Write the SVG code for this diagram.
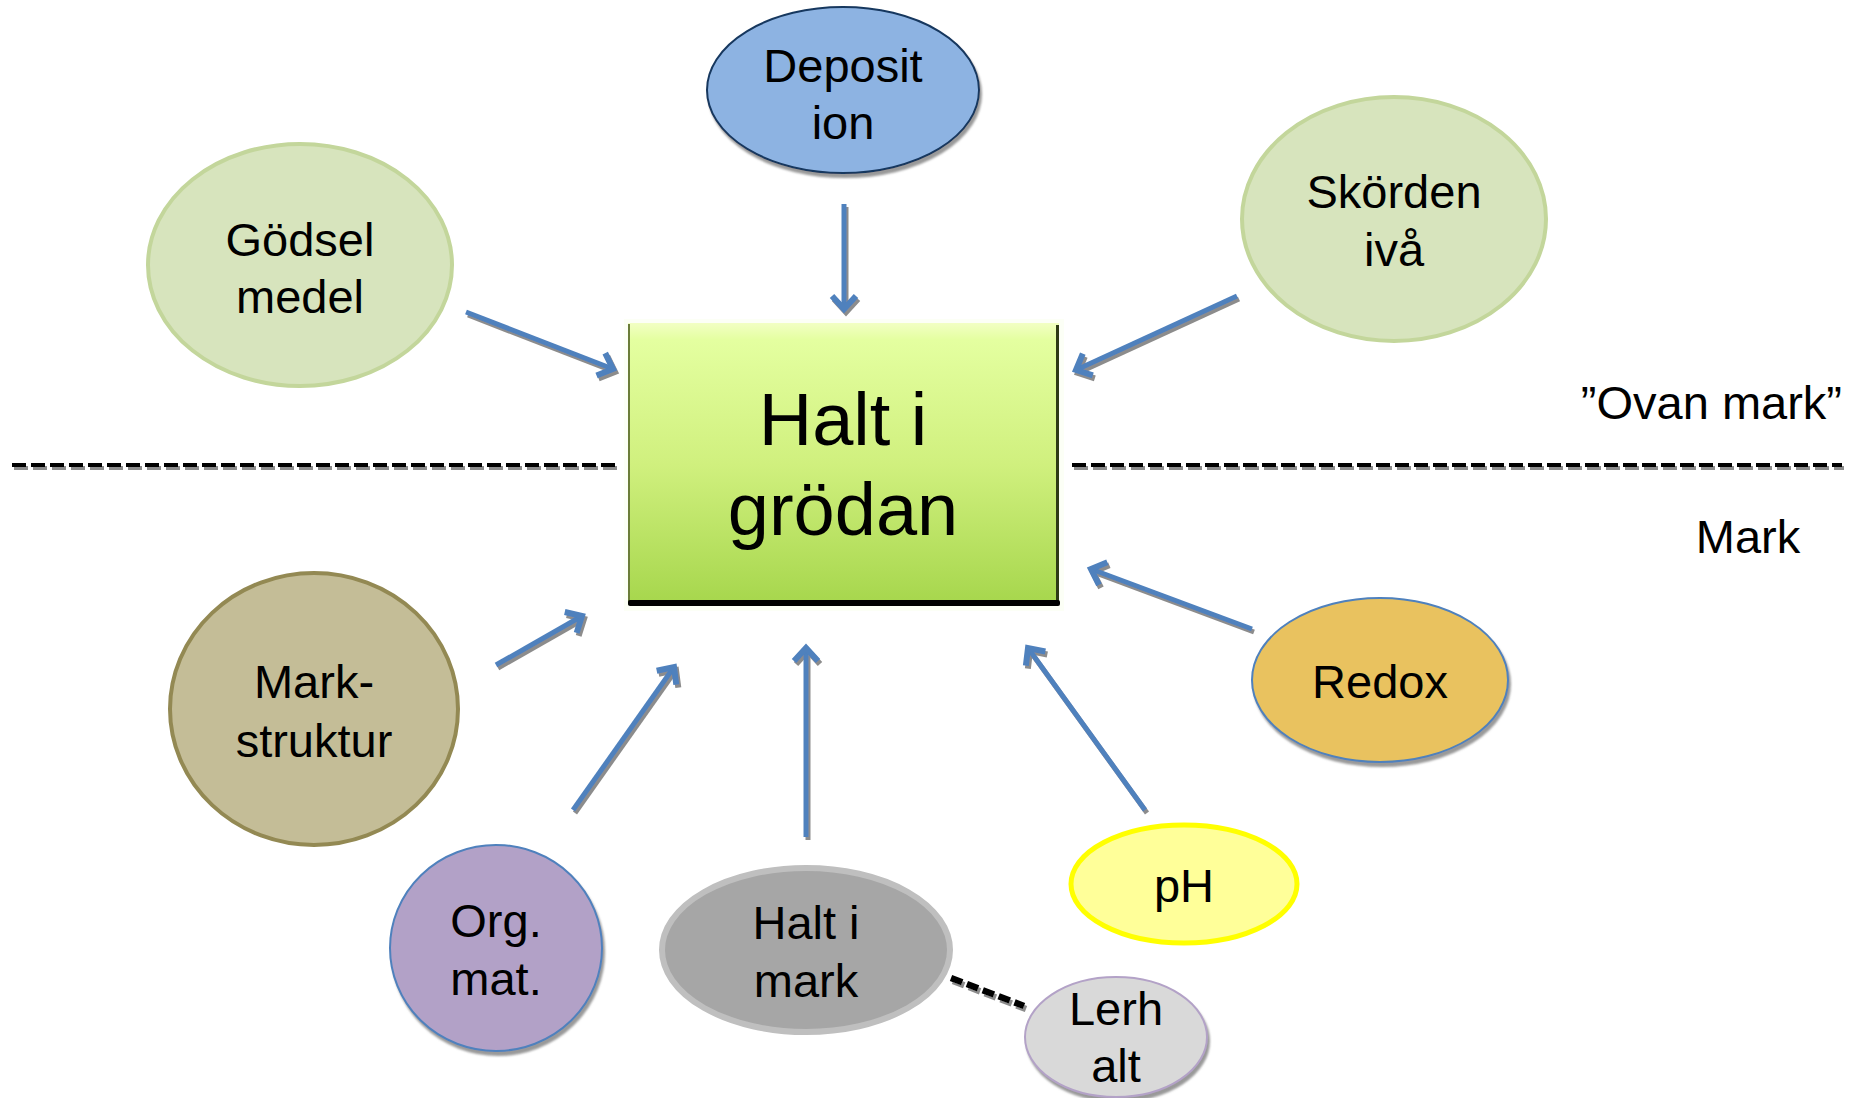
<svg xmlns="http://www.w3.org/2000/svg" width="1857" height="1098" viewBox="0 0 1857 1098">
<defs>
<linearGradient id="gBox" x1="0" y1="0" x2="0" y2="1">
<stop offset="0" stop-color="#f2ffc4"/>
<stop offset="0.06" stop-color="#e4ffa0"/>
<stop offset="0.5" stop-color="#d0f07e"/>
<stop offset="1" stop-color="#a6d64c"/>
</linearGradient>
<filter id="sh" x="-10%" y="-10%" width="130%" height="130%">
<feDropShadow dx="2" dy="4" stdDeviation="1.2" flood-color="#808080" flood-opacity="0.8"/>
</filter>
<filter id="ash" filterUnits="userSpaceOnUse" x="0" y="0" width="1857" height="1098">
<feDropShadow dx="2" dy="3" stdDeviation="0.6" flood-color="#7f7f7f" flood-opacity="0.9"/>
</filter>
<marker id="ah" markerUnits="userSpaceOnUse" markerWidth="40" markerHeight="40" refX="0" refY="0" viewBox="-20 -20 40 40" orient="auto" overflow="visible">
<path d="M-13,-12 L0,0 L-13,12" fill="none" stroke="#4f81bd" stroke-width="6" stroke-linejoin="miter"/>
</marker>
</defs>
<style>
text{font-family:"Liberation Sans",Arial,sans-serif;fill:#000;text-anchor:middle}
.t{font-size:47px}
.big{font-size:74px}
.arr{stroke:#4f81bd;stroke-width:5;fill:none;marker-end:url(#ah)}
.dash{stroke:#000;stroke-width:4;stroke-dasharray:14 5;fill:none}
</style>
<rect width="1857" height="1098" fill="#fff"/>

<g id="dividers" filter="url(#ash)">
<line class="dash" x1="12" y1="465" x2="617" y2="465"/>
<line class="dash" x1="1072" y1="465" x2="1842" y2="465"/>
</g>

<g id="labels">
<text class="t" x="1842" y="419" style="text-anchor:end">”Ovan mark”</text>
<text class="t" x="1748" y="553">Mark</text>
</g>

<g id="connectors" filter="url(#ash)">
<line class="arr" x1="844" y1="204" x2="844" y2="309"/>
<line class="arr" x1="466" y1="312" x2="613" y2="369"/>
<line class="arr" x1="1237" y1="296" x2="1076" y2="370"/>
<line class="arr" x1="496" y1="665" x2="582" y2="616"/>
<line class="arr" x1="573" y1="810" x2="674" y2="667"/>
<line class="arr" x1="806" y1="837" x2="806" y2="648"/>
<line class="arr" x1="1145" y1="810" x2="1028" y2="648"/>
<line class="arr" x1="1252" y1="629" x2="1091" y2="569"/>
<line x1="951" y1="978" x2="1024" y2="1006" stroke="#000" stroke-width="6.5" stroke-dasharray="12 5"/>
</g>

<g id="deposition">
<ellipse cx="843" cy="90" rx="136" ry="83" fill="#8db3e2" stroke="#17375e" stroke-width="2" filter="url(#sh)"/>
<text class="t" x="843" y="82">Deposit</text>
<text class="t" x="843" y="139">ion</text>
</g>

<g id="godsel">
<ellipse cx="300" cy="265" rx="152" ry="121" fill="#d7e4bd" stroke="#c3d69b" stroke-width="4"/>
<text class="t" x="300" y="256">Gödsel</text>
<text class="t" x="300" y="313">medel</text>
</g>

<g id="skorden">
<ellipse cx="1394" cy="219" rx="152" ry="122" fill="#d7e4bd" stroke="#c3d69b" stroke-width="4"/>
<text class="t" x="1394" y="208">Skörden</text>
<text class="t" x="1394" y="266">ivå</text>
</g>

<g id="center">
<rect x="624" y="319" width="440" height="292" fill="#fafff0" opacity="0.6"/>
<rect x="628" y="323" width="431" height="282" fill="url(#gBox)"/>
<line x1="629" y1="324" x2="629" y2="604" stroke="#6b7d3a" stroke-width="2"/>
<line x1="1057.5" y1="325" x2="1057.5" y2="604" stroke="#2e3a16" stroke-width="3"/>
<rect x="628" y="600" width="432" height="6" rx="2" fill="#000"/>
<text class="big" x="843" y="445">Halt i</text>
<text class="big" x="843" y="535">grödan</text>
</g>

<g id="markstruktur">
<ellipse cx="314" cy="709" rx="144" ry="136" fill="#c4bd97" stroke="#938953" stroke-width="4"/>
<text class="t" x="314" y="698">Mark-</text>
<text class="t" x="314" y="757">struktur</text>
</g>

<g id="orgmat">
<ellipse cx="496" cy="948" rx="106" ry="103" fill="#b2a1c7" stroke="#4f81bd" stroke-width="2" filter="url(#sh)"/>
<text class="t" x="496" y="937">Org.</text>
<text class="t" x="496" y="995">mat.</text>
</g>

<g id="haltimark">
<ellipse cx="806" cy="950" rx="144" ry="82" fill="#a6a6a6" stroke="#bfbfbf" stroke-width="6"/>
<text class="t" x="806" y="939">Halt i</text>
<text class="t" x="806" y="997">mark</text>
</g>

<g id="lerhalt">
<ellipse cx="1116" cy="1037" rx="91" ry="60" fill="#d9d9d9" stroke="#b3a2c7" stroke-width="2" filter="url(#sh)"/>
<text class="t" x="1116" y="1025">Lerh</text>
<text class="t" x="1116" y="1082">alt</text>
</g>

<g id="ph">
<ellipse cx="1184" cy="884" rx="113" ry="59" fill="#ffff99" stroke="#ffff00" stroke-width="5"/>
<text class="t" x="1184" y="902">pH</text>
</g>

<g id="redox">
<ellipse cx="1380" cy="680" rx="128" ry="82" fill="#e9c25f" stroke="#4f81bd" stroke-width="2" filter="url(#sh)"/>
<text class="t" x="1380" y="698">Redox</text>
</g>
</svg>
